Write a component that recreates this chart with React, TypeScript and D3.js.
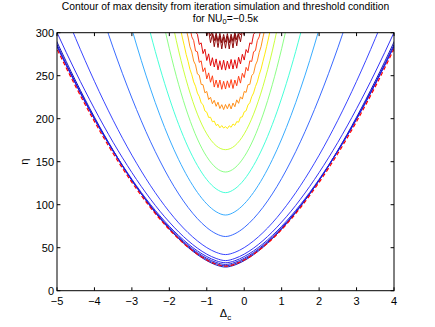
import React from "react";
import * as d3 from "d3";

// axis ticks
const xTicks = [-5, -4, -3, -2, -1, 0, 1, 2, 3, 4];
const yTicks = [0, 50, 100, 150, 200, 250, 300];

// lower contours are symmetric around this detuning
const center = -0.5;
// distance from the centre (in Δc) where eta is read for the smooth contours
const offsets = [0, 0.25, 0.5, 0.75, 1, 1.25, 1.5, 1.75, 2, 2.5, 3, 3.5, 4, 4.5, 5];

// threshold condition (red dashed)
const etaThreshold = [28.5, 30.8, 35.7, 42.4, 50.6, 60.2, 71.1, 83.2, 96.4, 126, 159.5, 196.7, 237.3, 281.1, 328.2];

// smooth max density contours, lowest level first
const etaL1 = [27.5, 29.9, 34.9, 41.9, 50.4, 60.4, 71.7, 84.2, 97.9, 128.5, 163.3, 201.8, 243.9, 289.2, 338];
const etaL2 = [29, 31.4, 36.3, 43.1, 51.5, 61.3, 72.4, 84.7, 98.2, 128.3, 162.4, 200.2, 241.6, 286.2, 334.1];
const etaL3 = [30.5, 32.9, 37.7, 44.4, 52.7, 62.4, 73.3, 85.5, 98.7, 128.4, 162.1, 199.4, 240.3, 284.2, 331.5];
const etaL4 = [32.5, 34.8, 39.7, 46.3, 54.5, 64.1, 74.9, 87, 100.1, 129.6, 162.9, 199.9, 240.4, 284, 330.8];
const etaL5 = [35, 37.5, 42.5, 49.5, 58.2, 68.3, 79.8, 92.4, 106.3, 137.4, 172.5, 211.6, 254.2, 300.2, 349.6];
const etaL6 = [42, 44.6, 50.1, 57.9, 67.5, 78.8, 91.8, 106.2, 122, 157.6, 198.2, 243.5, 293.2, 347];
const etaL7 = [63, 66.2, 73.4, 83.8, 96.9, 112.5, 130.5, 150.8, 173.1, 224, 282.4, 348];
const etaL8 = [88, 91.8, 100.9, 114.3, 131.5, 152.3, 176.4, 203.8, 234.3, 304.2, 385.5];
const etaL9 = [114, 118.4, 129.2, 145.6, 167, 193.2, 224, 259.1, 298.5, 389.8];
const etaL10 = [138, 142.8, 155.8, 176.4, 204.4, 239.5, 281.5, 330.3];
const etaL11 = [164, 168.6, 182.4, 205.3, 237.5, 278.8, 329.4];

// noisy upper contours, read on a fine Δc grid
const fineDelta = [
  -1.7, -1.65, -1.6, -1.55, -1.5, -1.45, -1.4, -1.35, -1.3, -1.25, -1.2, -1.15, -1.1, -1.05, -1.0, -0.95,
  -0.9, -0.85, -0.8, -0.75, -0.7, -0.65, -0.6, -0.55, -0.5, -0.45, -0.4, -0.35, -0.3, -0.25, -0.2, -0.15,
  -0.1, -0.05, 0, 0.05, 0.1, 0.15, 0.2, 0.25, 0.3, 0.35, 0.4, 0.45, 0.5, 0.55, 0.6, 0.65, 0.7,
];
const etaL12 = [
  304.1, 293.9, 284.8, 274.6, 266.8, 257.4, 251.1, 242.8, 237.8, 229.8, 225.7, 218.4, 216.3, 209, 207.6, 201.4,
  201.7, 196.4, 197.2, 192.1, 193.4, 189.4, 192, 189.1, 190.8, 188.5, 191.8, 190, 193.9, 192.2, 196.6, 195.9,
  201.7, 202.1, 208, 209.2, 215.9, 218.6, 225.6, 229.9, 237.4, 242.8, 251.1, 257.8, 266.7, 275.1, 284.2, 293.9, 304.1,
];
const etaL13 = [
  337.9, 325.9, 314.6, 303.9, 295, 283.7, 277.6, 267, 262.6, 252.1, 250.5, 239.9, 239.5, 230.1, 231.7, 222.3,
  224.9, 217.4, 221.4, 214.4, 219.2, 211.8, 216.3, 210.6, 216.5, 211.6, 217.3, 211.3, 218.2, 213.9, 221.9, 217.9,
  225.4, 222.8, 231.7, 230.6, 239.5, 239.9, 250, 252.6, 262.3, 267.2, 277.1, 283.9, 294.5, 303.9, 314.6, 325.9, 337.9,
];
const etaL14 = [
  359.6, 347.2, 335.5, 324.6, 314.5, 306.2, 295.2, 290.8, 278.7, 277.8, 265.5, 267.3, 254.7, 259.2, 246.3, 253.3,
  242.4, 249.9, 236.8, 245, 236.1, 245, 234.2, 243.5, 234.5, 244, 236.2, 245.5, 235.1, 245, 238.3, 249.4,
  241.4, 252.8, 247.8, 259.7, 255.7, 267.3, 266.5, 277.8, 279.2, 290.8, 295.2, 305.2, 314.5, 324.6, 335.5, 347.2, 359.6,
];
const etaL15 = [
  386.6, 372.7, 359.9, 348.1, 337.2, 327.3, 318.2, 310.1, 300.7, 298.2, 286.3, 288.2, 275.7, 280.9, 267.7, 275.4,
  261.7, 270.9, 260.1, 269.5, 256.8, 267.4, 257.1, 268, 256.5, 267, 258.1, 268.9, 257.8, 268.5, 258.6, 271.4,
  263.7, 274.9, 268.2, 280.4, 276.7, 288.2, 286.8, 298.2, 300.7, 310.1, 318.2, 327.3, 337.2, 348.1, 359.9, 372.7, 386.6,
];
const etaL16 = [
  461, 441, 422, 405, 389, 375, 362, 350, 340, 331, 323, 316.5, 307.6, 307.6, 296.5, 302.1,
  288.4, 298.3, 283.7, 296.6, 282.8, 296.3, 281.1, 295, 282, 296, 281.1, 295.3, 282.3, 297.6, 284.7, 298.3,
  289.4, 302.1, 297.5, 307.6, 310.6, 316.5, 323, 331, 340, 350, 362, 375, 389, 405, 422, 441, 461,
];
const etaL17 = [
  466, 446, 427, 410, 394, 380, 367, 355, 345, 336, 328, 321.5, 315.6, 310.6, 306.5, 303.1,
  296.4, 301.3, 290.7, 299.6, 289.8, 299.3, 288.1, 298, 289, 299, 288.1, 298.3, 289.8, 300.6, 291.7, 301.3,
  297.4, 303.1, 306.5, 310.6, 315.6, 321.5, 328, 336, 345, 355, 367, 380, 394, 410, 427, 446, 466,
];

const smoothLevels = [etaL1, etaL2, etaL3, etaL4, etaL5, etaL6, etaL7, etaL8, etaL9, etaL10, etaL11];
const smoothColors = ["#1010b8", "#1818c8", "#1c1cd8", "#2020e6", "#2828f4", "#2f3cff", "#2e62ff", "#2ea8ff",
  "#3cffd6", "#86ff80", "#c8ff34"];
const noisyLevels = [etaL12, etaL13, etaL14, etaL15, etaL16, etaL17];
const noisyColors = ["#ffe800", "#ff8a10", "#ff3a10", "#e00000", "#8c0000", "#800000"];

const W = 435, H = 327;
const left = 57, right = 394, top = 32.7, bottom = 290.7;
const font = "'Liberation Sans', Arial, Helvetica, sans-serif";

const x = d3.scaleLinear().domain([-5, 4]).range([left, right]);
const y = d3.scaleLinear().domain([0, 300]).range([bottom, top]);

function profile(eta: number[]): [number, number][] {
  const pts: [number, number][] = [];
  for (let i = eta.length - 1; i > 0; i--) pts.push([center - offsets[i], eta[i]]);
  for (let i = 0; i < eta.length; i++) pts.push([center + offsets[i], eta[i]]);
  return pts;
}

const smoothLine = d3.line<[number, number]>()
  .x(d => x(d[0]))
  .y(d => y(d[1]))
  .curve(d3.curveMonotoneX);

const noisyLine = d3.line<number>()
  .x((_, i) => x(fineDelta[i]))
  .y(d => y(d));

const fmt = (v: number) => (v < 0 ? "\u2212" + Math.abs(v) : String(v));

export default function App() {
  const tick = 3.4;
  return (
    <svg width={W} height={H} style={{ position: "absolute", left: 0, top: 0, background: "#fff" }}>
      <defs>
        <clipPath id="plot">
          <rect x={left} y={top} width={right - left} height={bottom - top} />
        </clipPath>
      </defs>
      <rect x={0} y={0} width={W} height={H} fill="#fff" />
      <g clipPath="url(#plot)" fill="none" strokeLinejoin="round">
        {smoothLevels.map((eta, i) => (
          <path key={"s" + i} d={smoothLine(profile(eta)) || ""} stroke={smoothColors[i]} strokeWidth={0.95} />
        ))}
        {noisyLevels.map((eta, i) => (
          <path key={"n" + i} d={noisyLine(eta) || ""} stroke={noisyColors[i]} strokeWidth={0.95} />
        ))}
        <path d={smoothLine(profile(etaThreshold)) || ""} stroke="#ff0000" strokeWidth={1.2} strokeDasharray="4,2.5" />
      </g>
      {/* axes box and ticks */}
      <rect x={left} y={top} width={right - left} height={bottom - top} fill="none" stroke="#000" strokeWidth={1} />
      {xTicks.map(t => (
        <g key={"x" + t}>
          <line x1={x(t)} x2={x(t)} y1={bottom} y2={bottom - tick} stroke="#000" />
          <line x1={x(t)} x2={x(t)} y1={top} y2={top + tick} stroke="#000" />
          <text x={x(t)} y={304.5} fontSize={11} fontFamily={font} textAnchor="middle">{fmt(t)}</text>
        </g>
      ))}
      {yTicks.map(t => (
        <g key={"y" + t}>
          <line x1={left} x2={left + tick} y1={y(t)} y2={y(t)} stroke="#000" />
          <line x1={right} x2={right - tick} y1={y(t)} y2={y(t)} stroke="#000" />
          <text x={54} y={y(t)} dy="0.36em" fontSize={11} fontFamily={font} textAnchor="end">{t}</text>
        </g>
      ))}
      {/* title */}
      <text x={(left + right) / 2} y={9.8} fontSize={10.3} fontFamily={font} textAnchor="middle">
        Contour of max density from iteration simulation and threshold condition
      </text>
      <text x={(left + right) / 2} y={21.6} fontSize={10.3} fontFamily={font} textAnchor="middle">
        for NU<tspan fontSize={7.5} dy={2.3}>0</tspan><tspan dy={-2.3}>=−0.5κ</tspan>
      </text>
      {/* axis labels */}
      <text x={(left + right) / 2} y={317} fontSize={11} fontFamily={font} textAnchor="middle">
        Δ<tspan fontSize={8} dy={3}>c</tspan>
      </text>
      <text transform={`translate(28,${(top + bottom) / 2}) rotate(-90)`} fontSize={11} fontFamily={font} textAnchor="middle">η</text>
    </svg>
  );
}
